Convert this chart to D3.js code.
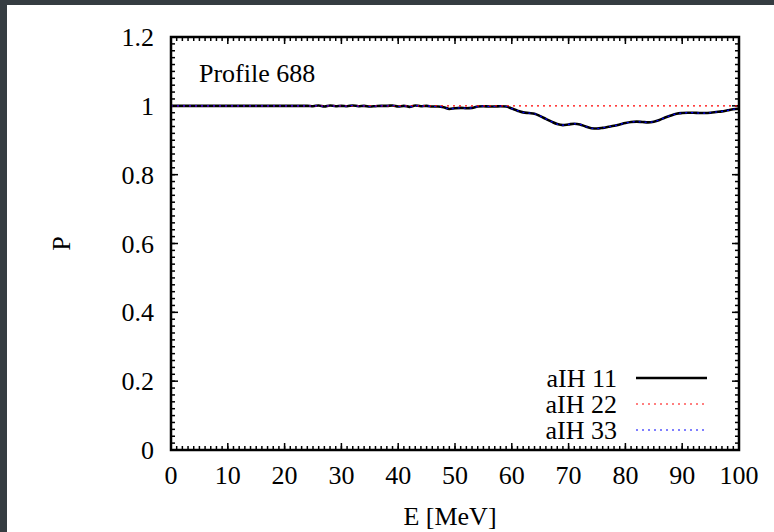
<!DOCTYPE html>
<html>
<head>
<meta charset="utf-8">
<script src="https://cdn.jsdelivr.net/npm/d3@7"></script>
<style>
  html, body { margin: 0; padding: 0; background: #353c41; }
  svg { display: block; }
  text { font-family: "Liberation Serif", "DejaVu Serif", serif; fill: #000; }
</style>
</head>
<body>
<svg width="774" height="532"></svg>
<script>
// energies (MeV) and probabilities
var energy = d3.range(0, 101);
var pIH11 = [
  1.000, 1.000, 1.000, 1.000, 1.000, 1.000, 1.000, 1.000, 1.000, 1.000,
  1.000, 1.000, 1.000, 1.000, 1.000, 1.000, 1.000, 1.000, 1.000, 1.000,
  1.000, 1.000, 1.000, 1.000, 1.000, 0.999, 1.001, 0.998, 1.001, 0.999,
  1.000, 0.999, 1.001, 0.999, 1.000, 0.998, 0.999, 1.000, 1.000, 1.001,
  0.998, 1.000, 0.997, 1.001, 0.999, 1.000, 0.998, 0.998, 0.996, 0.991,
  0.993, 0.994, 0.993, 0.994, 0.998, 0.999, 0.998, 0.998, 0.999, 0.998,
  0.992, 0.986, 0.981, 0.979, 0.977, 0.970, 0.962, 0.954, 0.947, 0.944,
  0.946, 0.948, 0.946, 0.940, 0.935, 0.934, 0.936, 0.939, 0.942, 0.946,
  0.950, 0.953, 0.954, 0.953, 0.952, 0.954, 0.959, 0.966, 0.972, 0.977,
  0.979, 0.980, 0.980, 0.979, 0.979, 0.980, 0.982, 0.984, 0.987, 0.990,
  0.992
];
var pIH22 = energy.map(function() { return 1.0; });
var pIH33 = pIH11.slice();

var xTicks = [0, 10, 20, 30, 40, 50, 60, 70, 80, 90, 100];
var yTicks = [0, 0.2, 0.4, 0.6, 0.8, 1, 1.2];
var seriesNames = ["aIH 11", "aIH 22", "aIH 33"];
var seriesColors = ["#000000", "#ff0000", "#0000ff"];

var svg = d3.select("svg"),
    width = +svg.attr("width"),
    height = +svg.attr("height");

// dark frame around the figure (top and left)
svg.append("rect").attr("x", 7).attr("y", 5)
    .attr("width", width - 7).attr("height", height - 5)
    .attr("fill", "#fff");

var pLeft = 171, pRight = 739, pTop = 37, pBottom = 450;
var fs = "26px";

var x = d3.scaleLinear().domain([0, 100]).range([pLeft, pRight]);
var y = d3.scaleLinear().domain([0, 1.2]).range([pBottom, pTop]);

var axes = svg.append("g").attr("class", "axes");

// ticks, inward on all four sides, gnuplot style
var xMinor = d3.range(0, 101, 1);
var yMinor = d3.range(0, 61).map(function(i) { return i * 0.02; });

function tickLinesX(vals, len) {
    [[pBottom, -1], [pTop, 1]].forEach(function(s) {
        axes.selectAll(null).data(vals).enter().append("line")
            .attr("x1", function(d) { return x(d); }).attr("x2", function(d) { return x(d); })
            .attr("y1", s[0]).attr("y2", s[0] + s[1] * len)
            .attr("stroke", "#000").attr("stroke-width", 1.5);
    });
}
function tickLinesY(vals, len) {
    [[pLeft, 1], [pRight, -1]].forEach(function(s) {
        axes.selectAll(null).data(vals).enter().append("line")
            .attr("y1", function(d) { return y(d); }).attr("y2", function(d) { return y(d); })
            .attr("x1", s[0]).attr("x2", s[0] + s[1] * len)
            .attr("stroke", "#000").attr("stroke-width", 1.5);
    });
}
tickLinesX(xMinor, 4);
tickLinesX(xTicks, 7);
tickLinesY(yMinor, 4);
tickLinesY(yTicks, 7);

// tick labels
axes.selectAll(".xlab").data(xTicks).enter().append("text")
    .attr("class", "xlab")
    .attr("x", function(d) { return x(d); })
    .attr("y", 484)
    .attr("text-anchor", "middle")
    .style("font-size", fs)
    .text(function(d) { return d; });

axes.selectAll(".ylab").data(yTicks).enter().append("text")
    .attr("class", "ylab")
    .attr("x", 154)
    .attr("y", function(d) { return y(d) + 9; })
    .attr("text-anchor", "end")
    .style("font-size", fs)
    .text(function(d) { return d3.format("~g")(d); });

// axis titles
svg.append("text").attr("x", 450).attr("y", 525)
    .attr("text-anchor", "middle").style("font-size", fs)
    .text("E [MeV]");
svg.append("text")
    .attr("transform", "translate(70," + ((pTop + pBottom) / 2) + ") rotate(-90)")
    .attr("text-anchor", "middle").style("font-size", fs)
    .text("P");

svg.append("text").attr("x", 199).attr("y", 82)
    .style("font-size", fs)
    .text("Profile 688");

// curves
var line = d3.line()
    .x(function(d, i) { return x(energy[i]); })
    .y(function(d) { return y(d); })
    .curve(d3.curveMonotoneX);

var plot = svg.append("g");
plot.append("path").datum(pIH11)
    .attr("d", line).attr("fill", "none")
    .attr("stroke", seriesColors[0]).attr("stroke-width", 2.6);
plot.append("path").datum(pIH22)
    .attr("d", line).attr("fill", "none")
    .attr("stroke", seriesColors[1]).attr("stroke-width", 1.2)
    .attr("stroke-dasharray", "2,4");
plot.append("path").datum(pIH33)
    .attr("d", line).attr("fill", "none")
    .attr("stroke", seriesColors[2]).attr("stroke-width", 1.2)
    .attr("stroke-dasharray", "2,4");

// legend
var legend = svg.append("g");
seriesNames.forEach(function(name, i) {
    var ly = 387 + i * 26;
    legend.append("text").attr("x", 617).attr("y", ly)
        .attr("text-anchor", "end").style("font-size", fs)
        .text(name);
    legend.append("line")
        .attr("x1", 636).attr("x2", 707)
        .attr("y1", ly - 9).attr("y2", ly - 9)
        .attr("stroke", seriesColors[i])
        .attr("stroke-width", i === 0 ? 2.6 : 1.2)
        .attr("stroke-dasharray", i === 0 ? null : "2,4");
});

// frame
svg.append("rect")
    .attr("x", pLeft).attr("y", pTop)
    .attr("width", pRight - pLeft).attr("height", pBottom - pTop)
    .attr("fill", "none").attr("stroke", "#000").attr("stroke-width", 2.5);
</script>
</body>
</html>
